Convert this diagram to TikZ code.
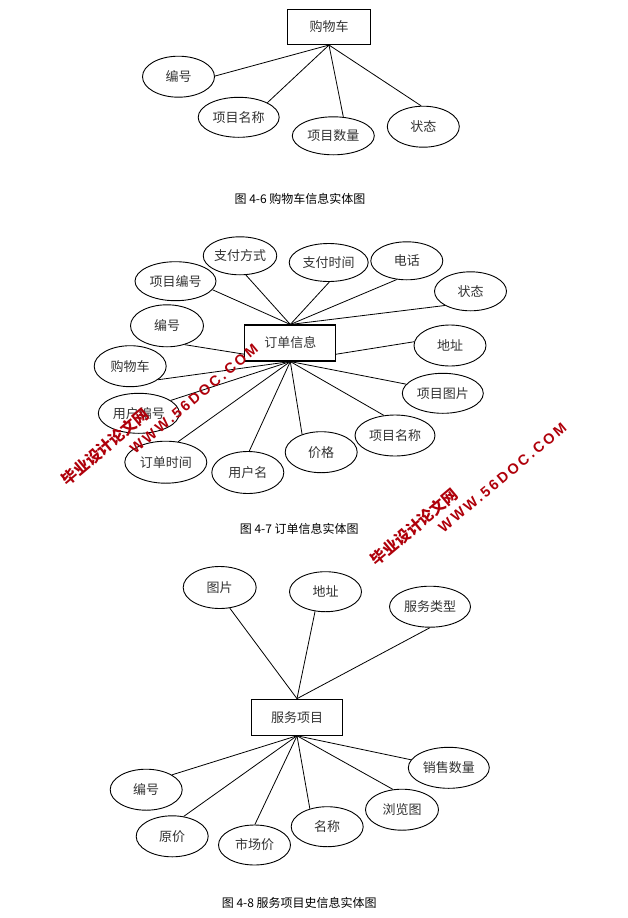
\documentclass[tikz,border=0pt]{standalone}
\usepackage{fontspec}
\newfontfamily\cjk{Noto Sans CJK SC}
\newfontfamily\wmlatin[LetterSpace=18]{Liberation Sans}
\usetikzlibrary{shapes.geometric,backgrounds}
\definecolor{wmred}{RGB}{175,0,10}
\tikzset{
  attr/.style={ellipse, draw, line width=0.9pt, fill=white, inner sep=0pt,
    minimum width=72pt, minimum height=41pt,
    font=\cjk\fontsize{13}{13}\selectfont, text=black!80},
  wide/.style={minimum width=81pt, minimum height=40pt},
  entity/.style={rectangle, draw, line width=1.1pt, fill=white, inner sep=0pt,
    minimum width=91pt, minimum height=36pt,
    font=\cjk\fontsize{13}{13}\selectfont, text=black!80},
  caption/.style={font=\cjk\fontsize{12}{12}\selectfont, text=black},
  link/.style={line width=0.8pt, black},
  wmcn/.style={font=\cjk\bfseries\fontsize{15.5}{15.5}\selectfont, text=wmred, rotate=40},
  wmen/.style={font=\wmlatin\bfseries\fontsize{14.5}{14.5}\selectfont, text=wmred, rotate=40}
}
\begin{document}
\begin{tikzpicture}[x=1pt,y=-1pt]
\useasboundingbox (0,0) rectangle (627,918);

% ---------- Figure 4-6 ----------
\node[entity, minimum width=83pt, minimum height=35pt] (b1) at (329,27) {购物车};
\node[attr] (a1) at (178.5,76.7) {编号};
\node[attr, wide] (a2) at (238.7,117.3) {项目名称};
\node[attr, wide, minimum width=82pt, minimum height=38pt] (a3) at (333.3,135.8) {项目数量};
\node[attr] (a4) at (423.3,126.7) {状态};
\node[caption] (c1) at (300,199) {图 4-6 购物车信息实体图};
\begin{scope}[on background layer]
\foreach \n/\a in {a1/1,a2/27,a3/62,a4/96} \draw[link] (b1.south) -- (\n.\a);
\end{scope}

% ---------- Figure 4-7 ----------
\node[entity] (b2) at (290.3,343) {订单信息};
\node[attr, wide, minimum height=39pt] (p1) at (175.5,281.2) {项目编号};
\node[attr, minimum width=71pt, minimum height=38pt] (p2) at (240,255.8) {支付方式};
\node[attr, minimum width=79pt, minimum height=38pt] (p3) at (328.7,262.5) {支付时间};
\node[attr, minimum height=38pt] (p4) at (406.8,260.8) {电话};
\node[attr, minimum height=39pt] (p5) at (470.5,291.3) {状态};
\node[attr, minimum width=73pt, minimum height=42pt] (q1) at (167,325.8) {编号};
\node[attr] (q2) at (130.2,366.2) {购物车};
\node[attr, wide] (q3) at (138.8,413.3) {用户编号};
\node[attr, minimum width=82pt, minimum height=42pt] (q4) at (165.8,462.2) {订单时间};
\node[attr, minimum height=42pt] (q5) at (247.8,472.5) {用户名};
\node[attr] (q6) at (321.2,452.2) {价格};
\node[attr, minimum width=80pt, minimum height=41pt] (q7) at (395,435.5) {项目名称};
\node[attr, wide] (q8) at (442.8,393.3) {项目图片};
\node[attr] (q9) at (450,345.5) {地址};
\node[caption] (c2) at (299.3,529) {图 4-7 订单信息实体图};
\begin{scope}[on background layer]
\foreach \n/\a in {p1/-13,p2/-73,p3/-88,p4/-118,p5/-151}
  \draw[link] (b2.north) -- (\n.\a);
\foreach \n/\a in {q1/-47,q2/-26,q3/22,q4/59,q5/86,q6/137,q7/119,q8/166,q9/174}
  \draw[link] (b2.south) -- (\n.\a);
\end{scope}

% ---------- Figure 4-8 ----------
\node[entity] (b3) at (297,717.2) {服务项目};
\node[attr, minimum width=73pt, minimum height=42pt] (r1) at (219.7,587.5) {图片};
\node[attr, minimum height=40pt] (r2) at (325.5,591.7) {地址};
\node[attr, wide, minimum height=41pt] (r3) at (430,606.7) {服务类型};
\node[attr] (s1) at (146.2,789.7) {编号};
\node[attr] (s2) at (172.2,836.3) {原价};
\node[attr, minimum height=40pt] (s3) at (254.5,845) {市场价};
\node[attr, minimum height=40pt] (s4) at (327.2,826.7) {名称};
\node[attr, minimum width=73pt] (s5) at (402,809.7) {浏览图};
\node[attr, wide, minimum height=41pt] (s6) at (448.8,767.8) {销售数量};
\node[caption] (c3) at (299.3,903) {图 4-8 服务项目史信息实体图};
\begin{scope}[on background layer]
\foreach \n/\a in {r1/-64,r2/-118,r3/-90} \draw[link] (b3.north) -- (\n.\a);
\foreach \n/\a in {s1/30,s2/60,s3/89,s4/134,s5/114,s6/168}
  \draw[link] (b3.south) -- (\n.\a);
\end{scope}

% ---------- watermarks ----------
\node[wmcn] (w1) at (105,446.7) {毕业设计论文网};
\node[wmen] (w2) at (194,399) {WWW.56DOC.COM};
\node[wmcn] (w3) at (414.2,526.7) {毕业设计论文网};
\node[wmen] (w4) at (502.5,477.5) {WWW.56DOC.COM};
\end{tikzpicture}
\end{document}
